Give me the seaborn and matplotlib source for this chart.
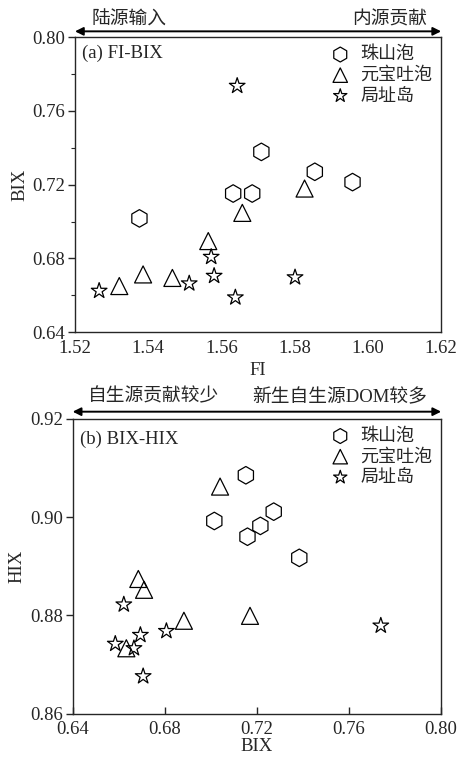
#!/usr/bin/env python3
import pandas as pd
import seaborn as sns
import matplotlib.pyplot as plt
from matplotlib.ticker import MultipleLocator, FormatStrFormatter

sites = ["珠山泡", "元宝吐泡", "局址岛"]

# (a) FI-BIX
fi_zsp = [1.5376, 1.5632, 1.5684, 1.5709, 1.5855, 1.5958]
bix_a_zsp = [0.7017, 0.7152, 0.7152, 0.7378, 0.7270, 0.7214]
fi_ybt = [1.5321, 1.5386, 1.5466, 1.5564, 1.5657, 1.5827]
bix_a_ybt = [0.6650, 0.6713, 0.6694, 0.6894, 0.7047, 0.7179]
fi_jzd = [1.5266, 1.5512, 1.5572, 1.5580, 1.5643, 1.5638, 1.5801]
bix_a_jzd = [0.6624, 0.6664, 0.6808, 0.6705, 0.7736, 0.6588, 0.6697]

# (b) BIX-HIX
bix_b_zsp = [0.7015, 0.7152, 0.7159, 0.7215, 0.7273, 0.7384]
hix_zsp = [0.8992, 0.9085, 0.8960, 0.8982, 0.9011, 0.8917]
bix_b_ybt = [0.7040, 0.6685, 0.6710, 0.6883, 0.7170, 0.6633]
hix_ybt = [0.9062, 0.8874, 0.8852, 0.8789, 0.8799, 0.8733]
bix_b_jzd = [0.6622, 0.6585, 0.6666, 0.6694, 0.6706, 0.6807, 0.7738]
hix_jzd = [0.8822, 0.8742, 0.8733, 0.8760, 0.8676, 0.8768, 0.8779]

markers = {"珠山泡": "h", "元宝吐泡": "^", "局址岛": "*"}
sizes = {"珠山泡": 160, "元宝吐泡": 150, "局址岛": 140}

FONT = ["Liberation Serif", "Noto Sans CJK SC"]
FS = 13.5


def make_df(xs, ys):
    rows = []
    for site, x, y in zip(sites, xs, ys):
        for a, b in zip(x, y):
            rows.append({"x": a, "y": b, "site": site})
    return pd.DataFrame(rows)


def draw(ax, df):
    for site in sites:
        sub = df[df["site"] == site]
        sns.scatterplot(data=sub, x="x", y="y", marker=markers[site], s=sizes[site],
                        facecolor="none", edgecolor="black", linewidth=0.9,
                        label=site, ax=ax)
    leg = ax.legend(loc="upper right", frameon=False, fontsize=FS - 0.5, handletextpad=0.1,
                    labelspacing=0.2, borderaxespad=0.1, markerscale=0.85)
    for t in leg.get_texts():
        t.set_fontfamily(FONT)
    for sp in ax.spines.values():
        sp.set_linewidth(1.0)
        sp.set_visible(True)


def arrow(ax, y_arrow, y_text, left, right, xl, xr):
    ax.annotate("", xy=(0.0, y_arrow), xytext=(1.0, y_arrow), xycoords="axes fraction",
                arrowprops=dict(arrowstyle="<|-|>", color="black", lw=1.4,
                                mutation_scale=12, shrinkA=0, shrinkB=0),
                annotation_clip=False)
    ax.text(xl, y_text, left, transform=ax.transAxes, ha="left", va="center",
            fontsize=FS, family=FONT)
    ax.text(xr, y_text, right, transform=ax.transAxes, ha="right", va="center",
            fontsize=FS, family=FONT)


def main():
    sns.set_style("ticks")
    plt.rcParams["font.family"] = FONT
    plt.rcParams["font.size"] = FS

    fig = plt.figure(figsize=(4.6, 7.6), dpi=100)
    ax1 = fig.add_axes([0.163, 0.563, 0.796, 0.388])
    ax2 = fig.add_axes([0.158, 0.061, 0.801, 0.388])

    df_a = make_df([fi_zsp, fi_ybt, fi_jzd], [bix_a_zsp, bix_a_ybt, bix_a_jzd])
    draw(ax1, df_a)
    ax1.set_xlim(1.52, 1.62)
    ax1.set_ylim(0.64, 0.80)
    ax1.xaxis.set_major_locator(MultipleLocator(0.02))
    ax1.yaxis.set_major_locator(MultipleLocator(0.04))
    ax1.yaxis.set_minor_locator(MultipleLocator(0.02))
    ax1.xaxis.set_major_formatter(FormatStrFormatter("%.2f"))
    ax1.yaxis.set_major_formatter(FormatStrFormatter("%.2f"))
    ax1.tick_params(axis="x", which="major", length=0, labelsize=FS, pad=6)
    ax1.tick_params(axis="y", which="major", direction="out", length=5, width=1, labelsize=FS, pad=2)
    ax1.tick_params(axis="y", which="minor", direction="out", length=3, width=0.8)
    ax1.set_xlabel("FI", fontsize=FS, labelpad=3)
    ax1.set_ylabel("BIX", fontsize=FS, labelpad=3)
    ax1.text(0.02, 0.946, "(a) FI-BIX", transform=ax1.transAxes, ha="left", va="center",
             fontsize=FS)
    arrow(ax1, 1.02, 1.058, "陆源输入", "内源贡献", 0.046, 0.961)

    df_b = make_df([bix_b_zsp, bix_b_ybt, bix_b_jzd], [hix_zsp, hix_ybt, hix_jzd])
    draw(ax2, df_b)
    ax2.set_xlim(0.64, 0.80)
    ax2.set_ylim(0.86, 0.92)
    ax2.xaxis.set_major_locator(MultipleLocator(0.04))
    ax2.yaxis.set_major_locator(MultipleLocator(0.02))
    ax2.xaxis.set_major_formatter(FormatStrFormatter("%.2f"))
    ax2.yaxis.set_major_formatter(FormatStrFormatter("%.2f"))
    ax2.tick_params(axis="x", which="major", direction="in", length=5, width=1, labelsize=FS, pad=5)
    ax2.tick_params(axis="y", which="major", direction="out", length=5, width=1, labelsize=FS, pad=2)
    ax2.set_xlabel("BIX", fontsize=FS, labelpad=0)
    ax2.set_ylabel("HIX", fontsize=FS, labelpad=3)
    ax2.text(0.02, 0.93, "(b) BIX-HIX", transform=ax2.transAxes, ha="left", va="center",
             fontsize=FS)
    arrow(ax2, 1.024, 1.075, "自生源贡献较少", "新生自生源DOM较多", 0.042, 0.961)

    fig.savefig("out.png", dpi=100)


if __name__ == "__main__":
    main()
